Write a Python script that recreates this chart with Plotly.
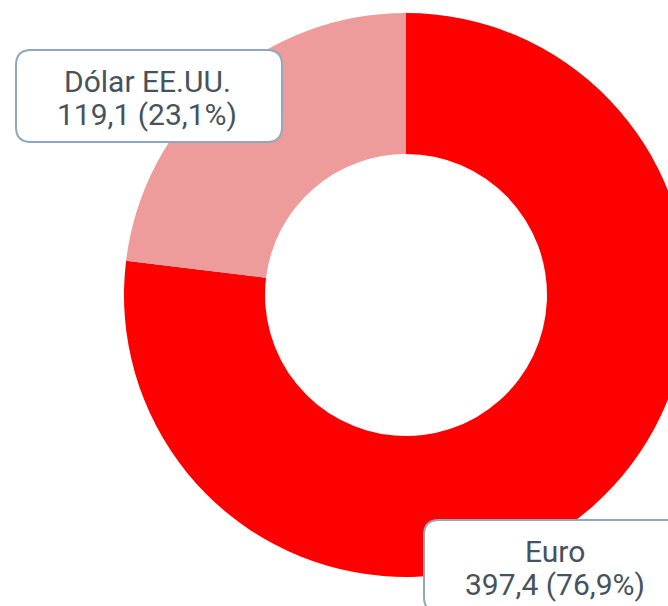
import plotly.graph_objects as go

# Currency breakdown (amounts, same units as labels)
currencies = ["Euro", "Dólar EE.UU."]
amounts = [397.4, 119.1]
slice_colors = ["#FF0000", "#ED9B9B"]

W, H = 700, 620
TEXT_COLOR = "#46535D"
BOX_LINE = "#8FA8BC"
FONT = "Roboto"
FONT_SIZE = 30
LINE_GAP = 33  # baseline-to-baseline distance of the two label lines, px


def px(x):
    return x / W


def py(y):
    return 1 - y / H


def fmt(v, nd=1):
    return f"{v:.{nd}f}".replace(".", ",")


def rounded_box(x0, y0, x1, y1, r):
    # rounded rectangle path in paper coordinates (input in pixels, y down)
    pts = [
        f"M {px(x0 + r)},{py(y0)}",
        f"L {px(x1 - r)},{py(y0)}",
        f"Q {px(x1)},{py(y0)} {px(x1)},{py(y0 + r)}",
        f"L {px(x1)},{py(y1 - r)}",
        f"Q {px(x1)},{py(y1)} {px(x1 - r)},{py(y1)}",
        f"L {px(x0 + r)},{py(y1)}",
        f"Q {px(x0)},{py(y1)} {px(x0)},{py(y1 - r)}",
        f"L {px(x0)},{py(y0 + r)}",
        f"Q {px(x0)},{py(y0)} {px(x0 + r)},{py(y0)}",
        "Z",
    ]
    return " ".join(pts)


total = sum(amounts)

fig = go.Figure(
    go.Pie(
        labels=currencies,
        values=amounts,
        hole=0.5,
        sort=False,
        direction="clockwise",
        rotation=0,
        marker=dict(colors=slice_colors, line=dict(width=0)),
        textinfo="none",
        hoverinfo="label+value+percent",
        showlegend=False,
        domain=dict(x=[px(124), px(688)], y=[py(577), py(13)]),
    )
)

# label box centres (pixels)
box_centers = {"Euro": (557, 566), "Dólar EE.UU.": (149, 96)}
BW, BH, R = 266, 92, 15

shapes = []
annotations = []
for name, val in zip(currencies, amounts):
    cx, cy = box_centers[name]
    shapes.append(
        dict(
            type="path",
            xref="paper",
            yref="paper",
            path=rounded_box(cx - BW / 2, cy - BH / 2, cx + BW / 2, cy + BH / 2, R),
            fillcolor="white",
            line=dict(color=BOX_LINE, width=2),
            layer="above",
        )
    )
    lines = [name, f"{fmt(val)} ({fmt(val / total * 100)}%)"]
    for i, line in enumerate(lines):
        ly = cy + 2 + (i - 0.5) * LINE_GAP
        annotations.append(
            dict(
                x=px(cx - 2),
                y=py(ly),
                xref="paper",
                yref="paper",
                xanchor="center",
                yanchor="middle",
                showarrow=False,
                align="center",
                text=line,
                font=dict(family=FONT, size=FONT_SIZE, color=TEXT_COLOR),
            )
        )

fig.update_layout(
    width=W,
    height=H,
    margin=dict(l=0, r=0, t=0, b=0),
    paper_bgcolor="white",
    plot_bgcolor="white",
    shapes=shapes,
    annotations=annotations,
)

fig.write_html(
    "out.html",
    post_script="document.body.style.margin='0';document.body.style.overflow='hidden';",
)
